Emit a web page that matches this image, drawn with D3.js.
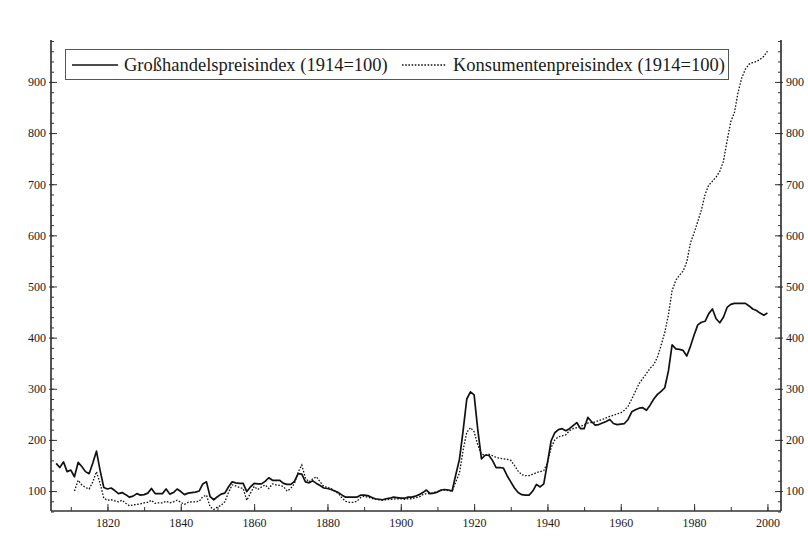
<!DOCTYPE html>
<html>
<head>
<meta charset="utf-8">
<script src="https://cdn.jsdelivr.net/npm/d3@7"></script>
<style>
  html, body { margin: 0; padding: 0; background: #fff; }
  svg { display: block; }
  svg text { font-family: "Liberation Serif", "Times New Roman", serif !important; fill: #1a1a1a; }
</style>
</head>
<body>
<svg id="chart" width="808" height="542"></svg>
<script>
// Großhandelspreisindex (1914=100), years 1806–2000
const gYears = d3.range(1806, 2001);
const gValues = [
  154,146,157,138,141,128,156,148,138,134, // 1806-1815
  155,178,140,107,104,106,101,95,97,93,    // 1816-1825
  88,90,95,92,93,96,105,95,95,95,          // 1826-1835
  104,94,97,104,99,93,96,97,98,100,        // 1836-1845
  114,118,89,83,89,94,96,108,118,116,      // 1846-1855
  115,115,99,108,115,114,114,119,126,121,  // 1856-1865
  121,121,115,113,113,119,134,133,118,116, // 1866-1875
  120,115,111,106,105,103,100,97,92,88,    // 1876-1885
  88,88,88,92,92,91,88,85,84,83,           // 1886-1895
  85,86,88,87,86,86,88,88,90,93,           // 1896-1905
  97,102,95,96,98,102,103,102,100,132,     // 1906-1915
  162,218,280,294,288,220,163,170,170,160, // 1916-1925
  146,146,145,130,118,106,97,93,92,92,     // 1926-1935
  100,113,108,114,155,198,214,220,222,218, // 1936-1945
  222,228,234,222,222,244,236,229,230,233, // 1946-1955
  236,240,232,230,231,232,240,255,259,262, // 1956-1965
  263,258,268,280,289,295,302,335,386,378, // 1966-1975
  377,375,364,383,405,425,430,432,447,456, // 1976-1985
  437,429,440,459,465,467,467,467,467,462, // 1986-1995
  456,453,448,444,448                      // 1996-2000
];

// Konsumentenpreisindex (1914=100), years 1811–2000
const kYears = d3.range(1811, 2001);
const kValues = [
  100,121,112,107,104,                     // 1811-1815
  118,138,115,86,82,83,81,79,82,76,        // 1816-1825
  71,73,74,75,77,78,82,76,77,77,           // 1826-1835
  80,77,79,82,78,74,78,79,79,80,           // 1836-1845
  89,92,69,64,69,72,79,97,112,110,         // 1846-1855
  107,105,82,96,109,103,108,112,105,114,   // 1856-1865
  112,111,109,100,105,115,137,151,125,118, // 1866-1875
  124,128,118,109,107,105,100,95,86,80,    // 1876-1885
  78,78,80,87,90,88,86,84,83,82,           // 1886-1895
  83,84,84,85,85,84,85,85,87,88,           // 1896-1905
  93,95,95,97,99,101,102,101,100,118,      // 1906-1915
  135,180,215,224,216,190,172,170,172,169, // 1916-1925
  166,164,163,162,160,150,139,132,130,130, // 1926-1935
  133,136,138,140,155,185,200,206,208,210, // 1936-1945
  218,222,224,226,230,233,234,235,238,240, // 1946-1955
  243,246,248,251,253,258,266,280,295,310, // 1956-1965
  320,330,340,347,362,385,410,445,492,512, // 1966-1975
  522,530,548,585,605,627,650,680,698,706, // 1976-1985
  714,725,745,785,822,840,880,908,925,935, // 1986-1995
  938,940,944,950,960                      // 1996-2000
];

const xLabelTicks = d3.range(1820, 2001, 20);
const xMinorTicks = d3.range(1810, 2001, 10);
const yLabelTicks = d3.range(100, 901, 100);
const yMinorTicks = d3.range(60, 981, 20);

const legendLabels = ["Großhandelspreisindex (1914=100)", "Konsumentenpreisindex (1914=100)"];

const svg = d3.select("#chart");
const L = 51, R = 781, T = 40, B = 511;
const serif = '"Liberation Serif", "Times New Roman", serif';

const x = d3.scaleLinear().domain([1804.6, 2003.7]).range([L, R]);
const y = d3.scaleLinear().domain([61, 982]).range([B, T]);

const axisColor = "#333";

// Left axis
const gl = svg.append("g").attr("transform", `translate(${L},0)`);
gl.call(d3.axisLeft(y).tickValues(yMinorTicks).tickSize(-3).tickFormat(""));
const glm = gl.append("g").call(d3.axisLeft(y).tickValues(yLabelTicks).tickSize(-6).tickPadding(5).tickFormat(d3.format("d")));
gl.selectAll(".domain").attr("d", `M0,${T}V${B}`);

// Right axis
const gr = svg.append("g").attr("transform", `translate(${R},0)`);
gr.call(d3.axisRight(y).tickValues(yMinorTicks).tickSize(-3).tickFormat(""));
const grm = gr.append("g").call(d3.axisRight(y).tickValues(yLabelTicks).tickSize(-6).tickPadding(5).tickFormat(d3.format("d")));
gr.selectAll(".domain").attr("d", `M0,${T}V${B}`);

// Bottom axis
const gb = svg.append("g").attr("transform", `translate(0,${B})`);
gb.call(d3.axisBottom(x).tickValues(xMinorTicks).tickSize(-4).tickFormat(""));
gb.append("g").call(d3.axisBottom(x).tickValues(xLabelTicks).tickSize(-7).tickPadding(7).tickFormat(d3.format("d")));
gb.selectAll(".domain").attr("d", `M${L},0H${R}`);

svg.selectAll("g").attr("font-family", serif);
svg.selectAll(".domain").attr("stroke", axisColor).attr("stroke-width", 1.2);
svg.selectAll(".tick line").attr("stroke", axisColor).attr("stroke-width", 1);
svg.selectAll(".tick text").style("font-family", serif).style("font-size", "12px").attr("fill", "#1a1a1a");
// extend major ticks slightly outside
glm.selectAll(".tick line").attr("x1", -2);
grm.selectAll(".tick line").attr("x1", 2);

// Lines
const line = d3.line().x(d => x(d[0])).y(d => y(d[1]));
const gData = gYears.map((yr, i) => [yr, gValues[i]]);
const kData = kYears.map((yr, i) => [yr, kValues[i]]);

svg.append("path").datum(kData).attr("d", line)
  .attr("fill", "none").attr("stroke", "#111").attr("stroke-width", 1.3)
  .attr("stroke-dasharray", "1.6,1.6");
svg.append("path").datum(gData).attr("d", line)
  .attr("fill", "none").attr("stroke", "#111").attr("stroke-width", 1.7)
  .attr("stroke-linejoin", "round");

// Legend
const lg = svg.append("g");
lg.append("rect").attr("x", 65.5).attr("y", 49.5).attr("width", 663).attr("height", 30)
  .attr("fill", "#fff").attr("stroke", "#555").attr("stroke-width", 1);
lg.append("line").attr("x1", 72).attr("x2", 118).attr("y1", 65).attr("y2", 65)
  .attr("stroke", "#111").attr("stroke-width", 1.7);
lg.append("text").attr("x", 124).attr("y", 71).style("font-size", "18.5px").text(legendLabels[0]);
lg.append("line").attr("x1", 402).attr("x2", 446).attr("y1", 65).attr("y2", 65)
  .attr("stroke", "#111").attr("stroke-width", 1.3).attr("stroke-dasharray", "1.6,1.6");
lg.append("text").attr("x", 453).attr("y", 71).style("font-size", "18.5px").text(legendLabels[1]);
</script>
</body>
</html>
